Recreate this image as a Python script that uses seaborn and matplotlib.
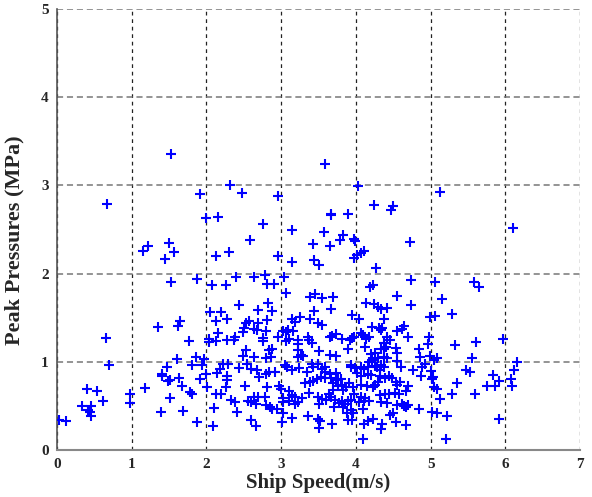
import matplotlib
matplotlib.use("Agg")
import matplotlib.pyplot as plt
import seaborn as sns
import pandas as pd

# --- data (speed in m/s, pressure in MPa) ---
speed_high = [1.53, 2.32, 2.47, 1.91, 2.96, 0.67, 2.00, 2.15, 2.76, 3.15, 3.43, 1.50, 1.22, 1.15, 1.57,
              1.45, 2.58, 2.30, 2.13, 2.96, 3.14, 3.44, 1.52, 1.87, 2.08, 2.26, 2.40, 2.63, 2.78, 2.81,
              2.90, 3.04, 3.07, 3.38, 3.45,
              3.58, 4.03, 5.13, 6.10, 4.24, 4.50, 4.47, 3.67, 3.66, 3.90, 3.57, 3.82, 3.78, 3.65, 3.98,
              3.99, 4.72, 3.50, 3.97, 4.01, 4.07, 4.11, 4.27, 4.74, 5.06, 5.58, 5.64, 4.19, 4.23, 3.55,
              3.69, 4.55, 5.15]
pressure_high = [3.36, 3.00, 2.91, 2.90, 2.88, 2.79, 2.63, 2.64, 2.56, 2.49, 2.34, 2.35, 2.31, 2.26, 2.25,
                 2.17, 2.38, 2.24, 2.20, 2.20, 2.13, 2.15, 1.91, 1.94, 1.87, 1.87, 1.96, 1.96, 1.98, 1.88,
                 1.88, 1.96, 1.78, 1.73, 1.77,
                 3.24, 2.99, 2.93, 2.52, 2.78, 2.77, 2.72, 2.68, 2.66, 2.68, 2.47, 2.44, 2.38, 2.31, 2.39,
                 2.37, 2.36, 2.10, 2.18, 2.21, 2.23, 2.26, 2.06, 1.93, 1.90, 1.90, 1.85, 1.85, 1.87, 1.72,
                 1.73, 1.75, 1.71]

speed_right = [5.28, 5.97, 5.61, 5.32, 5.55, 6.15, 6.11, 6.07, 6.09, 5.47, 5.52, 5.84, 5.35, 5.75, 5.86,
               5.92, 5.29, 5.59, 5.22, 5.91, 5.21]
pressure_right = [1.54, 1.26, 1.22, 1.19, 1.04, 1.00, 0.91, 0.80, 0.73, 0.91, 0.88, 0.85, 0.76, 0.73, 0.73,
                  0.78, 0.64, 0.64, 0.38, 0.35, 0.12]

speed_c4 = [4.14, 4.24, 4.30, 4.33, 4.41, 4.74, 3.95, 4.04, 4.38, 4.99, 5.06, 4.21, 4.33, 4.31, 4.35,
            4.55, 4.61, 4.64, 4.07, 4.10, 4.17, 4.14, 3.95, 3.92, 3.98, 4.41, 4.45, 4.38, 4.40, 4.37,
            4.33, 4.69, 4.98, 4.12, 3.89, 4.53, 4.55, 4.97, 4.85, 4.86, 4.99, 5.05, 5.08, 4.20, 4.25,
            4.29, 4.22, 4.18, 4.37, 4.42, 4.33, 4.28, 4.37, 4.32, 4.26, 4.16, 4.11, 4.07, 3.99, 3.94,
            3.93, 4.55, 4.60, 4.76, 4.89, 4.93, 4.87, 5.01, 5.03, 5.02, 4.02, 4.07, 4.16, 4.20, 4.32,
            4.30, 4.39, 4.44, 4.48, 4.54, 4.55, 4.59, 4.69, 4.67, 4.58, 4.52, 4.44, 4.39, 4.32, 5.04,
            5.08, 5.12, 3.91, 3.96, 4.07, 4.15, 4.23, 4.26, 3.98, 4.07, 4.12, 4.11, 4.17, 4.04, 3.94,
            3.89, 4.33, 4.42, 4.55, 4.61, 4.64, 4.70, 4.67, 4.84, 3.93, 3.96, 4.09, 3.89, 3.95, 4.46,
            4.50, 4.23, 4.16, 4.11, 4.35, 4.33, 4.54, 4.67, 5.02, 5.08, 4.09]
pressure_c4 = [1.67, 1.66, 1.62, 1.60, 1.61, 1.65, 1.53, 1.49, 1.49, 1.51, 1.52, 1.40, 1.36, 1.38, 1.38,
               1.35, 1.37, 1.41, 1.33, 1.30, 1.28, 1.26, 1.27, 1.25, 1.28, 1.28, 1.25, 1.21, 1.17, 1.15,
               1.14, 1.28, 1.28, 1.17, 1.15, 1.16, 1.10, 1.20, 1.15, 1.05, 1.07, 1.02, 1.04, 1.09, 1.10,
               1.04, 1.02, 1.00, 1.05, 1.04, 0.96, 0.94, 0.94, 0.91, 0.95, 0.94, 0.92, 0.94, 0.93, 0.94,
               0.96, 1.01, 0.94, 0.91, 0.94, 0.98, 0.84, 0.90, 0.83, 0.81, 0.87, 0.84, 0.86, 0.85, 0.84,
               0.77, 0.82, 0.84, 0.82, 0.77, 0.74, 0.77, 0.73, 0.67, 0.64, 0.65, 0.63, 0.63, 0.62, 0.71,
               0.69, 0.58, 0.76, 0.71, 0.74, 0.73, 0.71, 0.74, 0.64, 0.60, 0.59, 0.56, 0.56, 0.54, 0.57,
               0.56, 0.54, 0.53, 0.51, 0.52, 0.50, 0.51, 0.49, 0.47, 0.45, 0.42, 0.46, 0.34, 0.34, 0.40,
               0.42, 0.35, 0.33, 0.30, 0.29, 0.24, 0.32, 0.28, 0.43, 0.42, 0.12]

speed_c3 = [2.82, 2.87, 2.69, 3.44, 3.66, 2.57, 2.69, 2.81, 2.67, 2.63, 2.80, 2.76, 2.75, 3.15, 3.18,
            3.25, 3.38, 3.55, 3.49, 3.03, 3.09, 3.16, 3.06, 2.96, 3.06, 3.10, 3.23, 3.23, 3.36, 3.41,
            3.37, 3.65, 3.73, 3.81, 3.68, 2.64, 2.83, 2.88, 2.80, 2.86, 3.23, 3.26, 3.29, 3.22, 3.51,
            3.65, 3.73, 2.60, 2.67, 2.70, 2.80, 2.84, 2.92, 3.05, 3.08, 3.15, 3.24, 3.34, 3.42, 3.41,
            3.49, 3.55, 3.58, 3.59, 3.65, 3.73, 2.81, 2.97, 3.00, 3.11, 3.14, 3.32, 3.39, 3.42, 3.48,
            3.53, 3.58, 3.37, 3.69, 3.73, 3.76, 3.81, 3.87, 3.76, 3.80, 3.67, 3.69, 3.82, 2.64, 2.69,
            2.78, 2.66, 2.60, 3.02, 3.11, 3.19, 3.22, 3.28, 3.19, 3.49, 3.55, 3.60, 3.50, 3.64, 3.67,
            3.72, 3.77, 3.70, 3.81, 3.85, 3.82, 2.80, 2.85, 2.95, 2.88, 3.03, 3.03, 3.01, 3.14, 3.36,
            3.49, 3.52, 3.50, 3.68, 2.60, 2.66, 3.88]
pressure_c3 = [1.67, 1.58, 1.59, 1.58, 1.60, 1.46, 1.44, 1.47, 1.36, 1.37, 1.35, 1.27, 1.24, 1.49, 1.45,
               1.51, 1.49, 1.42, 1.44, 1.35, 1.36, 1.35, 1.34, 1.28, 1.24, 1.26, 1.25, 1.20, 1.28, 1.21,
               1.25, 1.28, 1.31, 1.26, 1.29, 1.05, 1.13, 1.14, 1.04, 1.06, 1.13, 1.08, 1.07, 1.05, 1.12,
               1.08, 1.07, 0.92, 0.91, 0.83, 0.86, 0.88, 0.88, 0.96, 0.94, 0.91, 0.93, 0.88, 0.94, 0.98,
               0.97, 0.92, 0.94, 0.88, 0.86, 0.87, 0.71, 0.73, 0.69, 0.67, 0.62, 0.76, 0.77, 0.78, 0.80,
               0.83, 0.82, 0.65, 0.76, 0.79, 0.73, 0.74, 0.71, 0.80, 0.81, 0.82, 0.68, 0.68, 0.60, 0.60,
               0.60, 0.52, 0.54, 0.59, 0.56, 0.60, 0.54, 0.59, 0.52, 0.60, 0.58, 0.57, 0.52, 0.63, 0.60,
               0.57, 0.53, 0.49, 0.56, 0.52, 0.49, 0.51, 0.49, 0.46, 0.46, 0.54, 0.42, 0.32, 0.36, 0.38,
               0.35, 0.33, 0.25, 0.29, 0.34, 0.27, 0.42]

speed_c2 = [2.44, 2.05, 2.20, 2.13, 2.28, 2.53, 1.35, 1.62, 1.65, 2.16, 2.49, 2.50, 1.77, 2.03, 2.03,
            2.13, 2.28, 2.38, 2.37, 2.53, 2.49, 1.60, 1.86, 1.97, 1.81, 1.94, 1.47, 2.22, 2.29, 2.43,
            2.54, 2.18, 2.14, 1.99, 1.41, 1.40, 1.48, 1.51, 1.63, 2.28, 2.28, 1.91, 2.26, 2.01, 1.67,
            2.52, 1.18, 0.98, 0.98, 1.78, 1.80, 2.13, 2.20, 1.51, 2.33, 2.38, 2.55, 2.10, 1.39, 1.68,
            2.41, 1.87, 2.09,
            0.65, 0.70, 0.40, 0.54, 0.62, 0.33, 0.46, 0.41, 0.45, 0.44, 0.03, 0.12]
pressure_c2 = [1.65, 1.56, 1.56, 1.46, 1.49, 1.44, 1.39, 1.41, 1.46, 1.33, 1.34, 1.38, 1.24, 1.26, 1.22,
               1.24, 1.25, 1.28, 1.25, 1.13, 1.07, 1.03, 1.05, 1.03, 0.96, 0.96, 0.94, 0.98, 0.97, 0.93,
               0.98, 0.92, 0.87, 0.86, 0.86, 0.84, 0.78, 0.79, 0.82, 0.84, 0.79, 0.81, 0.72, 0.71, 0.73,
               0.73, 0.70, 0.63, 0.53, 0.66, 0.64, 0.63, 0.63, 0.59, 0.57, 0.54, 0.55, 0.48, 0.43, 0.44,
               0.43, 0.32, 0.27,
               1.27, 0.96, 0.69, 0.67, 0.55, 0.50, 0.50, 0.45, 0.39, 0.43, 0.34, 0.33]

speed = speed_high + speed_right + speed_c4 + speed_c3 + speed_c2
pressure = pressure_high + pressure_right + pressure_c4 + pressure_c3 + pressure_c2

x_ticks = [0, 1, 2, 3, 4, 5, 6, 7]
y_ticks = [0, 1, 2, 3, 4, 5]

df = pd.DataFrame({"Ship Speed(m/s)": speed, "Peak Pressures (MPa)": pressure})

sns.set_style("white")
plt.rcParams["font.family"] = ["Liberation Serif", "DejaVu Serif"]

fig = plt.figure(figsize=(5.92, 4.97), dpi=100)
ax = fig.add_axes([0.0963, 0.0946, 0.8837, 0.887])

sns.scatterplot(data=df, x="Ship Speed(m/s)", y="Peak Pressures (MPa)", ax=ax,
                marker="+", color="#0000ff", s=60, linewidth=1.5, zorder=3)

ax.set_xlim(0, 7)
ax.set_ylim(0, 5)
ax.set_xticks(x_ticks)
ax.set_yticks(y_ticks)
ax.set_xticklabels([str(t) for t in x_ticks], fontweight="bold", fontsize=11)
ax.set_yticklabels([str(t) for t in y_ticks], fontweight="bold", fontsize=11)
ax.tick_params(length=0, pad=6)

ax.xaxis.grid(True, color="#222222", linestyle=(0, (3, 3)), linewidth=0.9)
ax.yaxis.grid(True, color="#777777", linestyle=(0, (4, 2.5)), linewidth=1.1)
ax.set_axisbelow(True)

for side in ["top", "right"]:
    ax.spines[side].set_visible(False)
ax.spines["left"].set_color("#555555")
ax.spines["bottom"].set_color("#888888")
ax.spines["left"].set_linewidth(1.2)
ax.spines["bottom"].set_linewidth(1.5)

ax.set_xlabel("Ship Speed(m/s)", fontsize=15, fontweight="bold", labelpad=1)
ax.set_ylabel("Peak Pressures (MPa)", fontsize=16, fontweight="semibold")
ax.yaxis.set_label_coords(-0.062, 0.475)

fig.savefig("out.png", dpi=100)
